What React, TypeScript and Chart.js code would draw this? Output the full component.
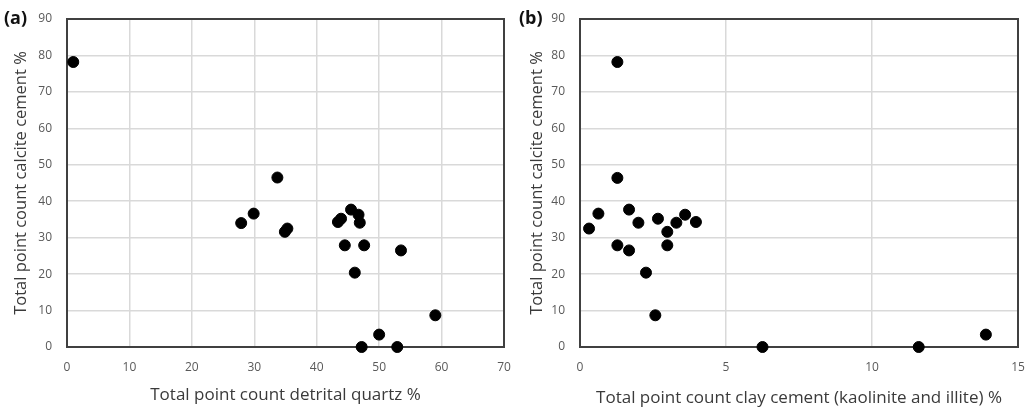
import React, { useEffect, useRef } from "react";
import { Chart, registerables } from "chart.js";

Chart.register(...registerables);

// Panel (a): detrital quartz vs calcite cement
const quartzA = [1.0, 33.7, 29.9, 27.9, 35.3, 34.9, 43.9, 43.4, 45.5, 46.7, 46.9, 44.5, 47.6, 53.5, 46.1, 59.0, 50.0, 47.2, 52.9];
const calciteA = [78.2, 46.5, 36.6, 34.0, 32.5, 31.6, 35.2, 34.3, 37.7, 36.3, 34.1, 27.9, 27.9, 26.5, 20.4, 8.7, 3.4, 0, 0];

// Panel (b): clay cement vs calcite cement
const clayB = [1.28, 1.28, 0.31, 0.63, 1.68, 2.0, 1.28, 1.68, 2.26, 2.58, 2.67, 2.99, 2.99, 3.3, 3.6, 3.97, 6.25, 11.6, 13.9];
const calciteB = [78.2, 46.4, 32.5, 36.6, 37.7, 34.1, 27.9, 26.5, 20.4, 8.7, 35.2, 31.6, 27.9, 34.1, 36.3, 34.3, 0, 0, 3.4];

const panelLabels = ["(a)", "(b)"];
const xTitles = ["Total point count detrital quartz %", "Total point count clay cement (kaolinite and illite) %"];
const yTitle = "Total point count calcite cement %";
const xMax = [70, 15];
const xStep = [10, 5];
const yMax = 90;
const yStep = 10;

const FONT = "'Open Sans', sans-serif";

function makeChart(canvas: HTMLCanvasElement, idx: number) {
  const xs = idx === 0 ? quartzA : clayB;
  const ys = idx === 0 ? calciteA : calciteB;
  const data = xs.map((x, i) => ({ x, y: ys[i] }));
  const yWidth = idx === 0 ? 67 : 65;
  const padRight = idx === 0 ? 11 : 12;
  const label = panelLabels[idx];
  const labelX = 4;

  const boxPlugin = {
    id: "box" + idx,
    beforeDatasetsDraw(chart: any) {
      const { ctx, chartArea } = chart;
      ctx.save();
      ctx.strokeStyle = "#404040";
      ctx.lineWidth = 2;
      ctx.strokeRect(chartArea.left, chartArea.top, chartArea.right - chartArea.left, chartArea.bottom - chartArea.top);
      ctx.restore();
    },
    afterDraw(chart: any) {
      const { ctx } = chart;
      ctx.save();
      ctx.fillStyle = "#111";
      ctx.font = "bold 18px " + FONT;
      ctx.textBaseline = "middle";
      ctx.textAlign = "left";
      ctx.fillText(label, labelX, 19);
      ctx.restore();
    },
  };

  return new Chart(canvas, {
    type: "scatter",
    data: {
      datasets: [
        {
          data,
          backgroundColor: "#000",
          borderColor: "#000",
          pointRadius: 5.5,
          pointHoverRadius: 5.5,
          clip: false as any,
        },
      ],
    },
    options: {
      animation: false,
      responsive: false,
      maintainAspectRatio: false,
      layout: { autoPadding: false, padding: { left: 0, top: 19, right: padRight, bottom: 0 } },
      plugins: { legend: { display: false }, tooltip: { enabled: false } },
      scales: {
        x: {
          type: "linear",
          min: 0,
          max: xMax[idx],
          afterFit: (s: any) => {
            s.height = 61;
            s.paddingLeft = 0;
            s.paddingRight = 0;
          },
          ticks: {
            stepSize: xStep[idx],
            color: "#595959",
            padding: 13,
            font: { family: FONT, size: 12 },
          },
          grid: { color: "#d9d9d9", lineWidth: 1.5, drawTicks: false },
          border: { display: false },
          title: {
            display: true,
            text: xTitles[idx],
            color: "#3a3a3a",
            font: { family: FONT, size: 17 },
            padding: { top: 0, bottom: idx === 0 ? 3 : 0 },
          },
        },
        y: {
          type: "linear",
          min: 0,
          max: yMax,
          afterFit: (s: any) => {
            s.width = yWidth;
            s.paddingTop = 0;
            s.paddingBottom = 0;
          },
          ticks: {
            stepSize: yStep,
            color: "#595959",
            padding: 15,
            font: { family: FONT, size: 12 },
          },
          grid: { color: "#d9d9d9", lineWidth: 1.5, drawTicks: false },
          border: { display: false },
          title: {
            display: true,
            text: yTitle,
            color: "#3a3a3a",
            font: { family: FONT, size: 16.5 },
            padding: { top: idx === 0 ? 11 : 12, bottom: 0 },
          },
        },
      },
    },
    plugins: [boxPlugin],
  });
}

export default function App() {
  const ref0 = useRef<HTMLCanvasElement>(null);
  const ref1 = useRef<HTMLCanvasElement>(null);

  useEffect(() => {
    document.body.style.margin = "0";
    const c0 = makeChart(ref0.current!, 0);
    const c1 = makeChart(ref1.current!, 1);
    return () => {
      c0.destroy();
      c1.destroy();
    };
  }, []);

  return (
    <div style={{ position: "relative", width: 1030, height: 408, background: "#fff" }}>
      <canvas ref={ref0} width={515} height={408} style={{ position: "absolute", left: 0, top: 0, width: 515, height: 408 }} />
      <canvas ref={ref1} width={515} height={408} style={{ position: "absolute", left: 515, top: 0, width: 515, height: 408 }} />
    </div>
  );
}
